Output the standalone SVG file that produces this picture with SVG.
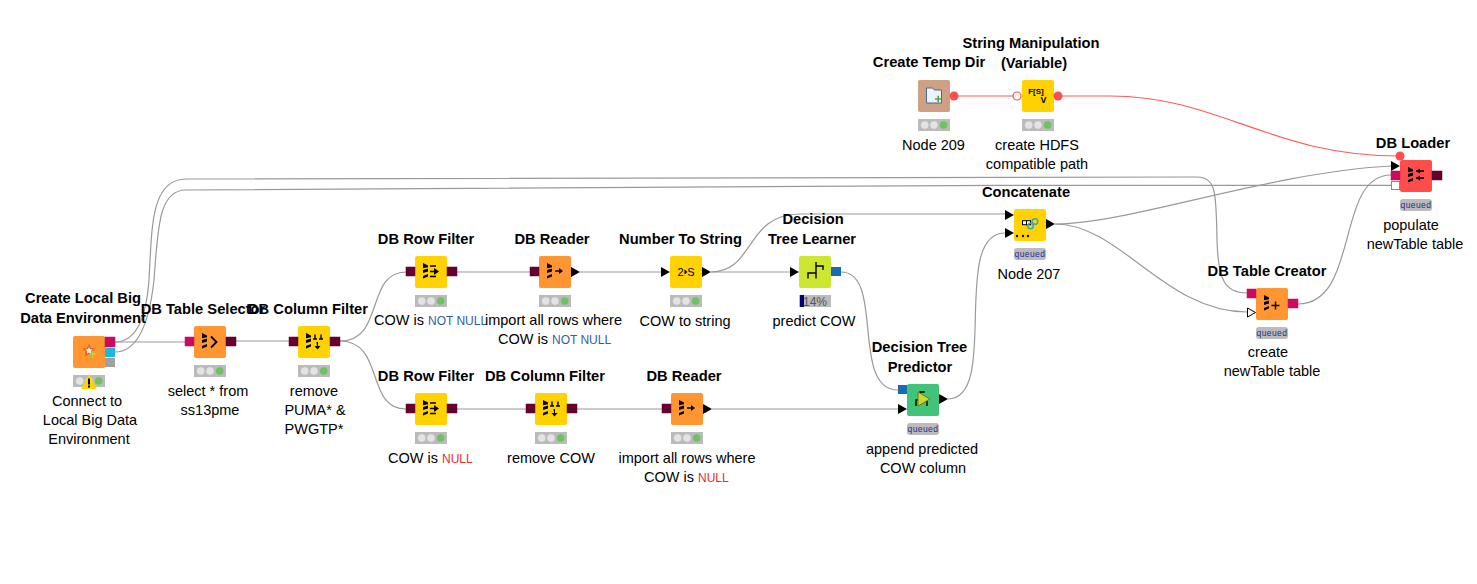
<svg xmlns="http://www.w3.org/2000/svg" xmlns:xlink="http://www.w3.org/1999/xlink" width="1477" height="584" viewBox="0 0 1477 584">
<style>
text{font-family:"Liberation Sans",Arial,sans-serif;font-size:14.5px;fill:#000;text-anchor:middle}
.t{font-weight:bold;font-size:14.7px}
.l{text-anchor:start}
.nn{font-size:12px;fill:#2f5ea8}
.nu{font-size:12px;fill:#f0282d}
.c{fill:none;stroke:#999;stroke-width:1.2}
.r{fill:none;stroke:#ff5a5a;stroke-width:1.100}
.orange{fill:#ff9632}.yellow{fill:#ffd200}.tan{fill:#cea184}.lime{fill:#cde62f}.green{fill:#42c37a}.red{fill:#ff4d4d}
.dk{fill:#66002e;stroke:#66002e;stroke-width:.5}.pk{fill:#cc0a5f;stroke:#cc0a5f;stroke-width:.5}
.tri{fill:#000}
.pill{fill:#bbb}
.q{font-size:8.5px;fill:#2a2a96;letter-spacing:.4px}
.ic{fill:none;stroke:#000;stroke-width:1.4}
</style>
<defs>
<rect id="n" width="32" height="32" rx="2"/>
<g id="lights"><rect y="39" width="32" height="12" fill="#bbb"/><circle cx="6.700" cy="45" r="3.800" fill="#e3e3e3"/><circle cx="16" cy="45" r="3.800" fill="#e3e3e3"/><circle cx="25.700" cy="45" r="3.800" fill="#6cc35f"/></g>
<path id="db" d="M8 7l5 2.500v1.800l-5 1zM8 14l5-1.500v3l-5 1.500zM8 20l5-2v2.500l-5 2z"/>
<path id="tr" d="M0-5L9 0 0 5z"/>
</defs>

<g id="connectors">
<path class="c" d="M115 342H185"/>
<path class="c" d="M115 342C135 342 146 320 149 280C152 230 150 179 186 179L1197 177C1217 177 1216 195 1217 240C1218 280 1225 293 1247 293"/>
<path class="c" d="M115 352C137 352 149 325 154 280C158 230 158 190 186 190L1000 185.300H1391"/>
<path class="c" d="M236 341H289"/>
<path class="c" d="M340 341C385 341 365 272 406 272"/>
<path class="c" d="M340 341C385 341 365 409 406 409"/>
<path class="c" d="M457 272H530"/>
<path class="c" d="M580 272H661"/>
<path class="c" d="M711 272H790"/>
<path class="c" d="M711 272C755 272 745 214 800 214H1005"/>
<path class="c" d="M457 409H526"/>
<path class="c" d="M577 409H662"/>
<path class="c" d="M712 409H898"/>
<path class="c" d="M841 272C885 272 850 390 898 390"/>
<path class="c" d="M948 399C1000 399 950 233 1005 233"/>
<path class="c" d="M1055 224C1130 224 1270 172 1391 166"/>
<path class="c" d="M1055 224C1120 224 1165 312 1247 312"/>
<path class="c" d="M1298 304C1360 304 1335 175 1391 175"/>
<path class="r" d="M954 96H1017"/>
<path class="r" d="M1058 96H1110C1220 96 1270 156 1400 156"/>
</g>

<g id="node-local-big-data">
<use href="#n" x="73" y="336" class="orange"/>
<path d="M89 345.500l1.500 3 3.500.5-2.500 2.500.7 3.500-3.200-1.700-3.200 1.700.7-3.500-2.500-2.500 3.500-.5z" fill="#fff" stroke="#e8641e" stroke-width="1.500"/>
<path d="M89.500 354h6M92.500 351v6" stroke="#b5dc3c" stroke-width="1.600"/>
<rect x="105" y="337" width="10" height="10" class="pk"/><rect x="105" y="348" width="10" height="9" fill="#1fb6dc"/><rect x="105" y="358" width="10" height="9" fill="#a0a0a0"/>
<g transform="translate(73 336)"><use href="#lights"/></g>
<path d="M89 374l8 15H81z" fill="#ffd400"/><rect x="88" y="378.500" width="2" height="6"/><rect x="88" y="385.500" width="2" height="2"/>
<text class="t" x="83" y="303">Create Local Big</text><text class="t" x="83" y="323">Data Environment</text>
<text x="87" y="406">Connect to</text><text x="90" y="425">Local Big Data</text><text x="89" y="444">Environment</text>
</g>

<g id="node-table-selector">
<use href="#n" x="194" y="326" class="orange"/><use href="#db" x="194" y="326"/>
<path d="M211 336.500l5.500 5.500-5.500 5.500" fill="none" stroke="#000" stroke-width="1.800"/>
<rect x="185" y="337" width="9" height="9" class="pk"/><rect x="226" y="337" width="10" height="9" class="dk"/>
<g transform="translate(194 326)"><use href="#lights"/></g>
<text class="t" x="203" y="314">DB Table Selector</text>
<text x="208" y="396">select * from</text><text x="210" y="415">ss13pme</text>
</g>

<g id="node-column-filter">
<use href="#n" x="298" y="326" class="yellow"/><use href="#db" x="298" y="326"/>
<path d="M313 339h4M319 339h4M315 334.500v4M321 334.500v4" class="ic" stroke-width="1"/><path d="M317 342h1.500v4h2.500l-3 3.500-3-3.500h2.500z" transform="translate(-.500 0)"/>
<rect x="289" y="337" width="9" height="9" class="dk"/><rect x="330" y="337" width="10" height="9" class="dk"/>
<g transform="translate(298 326)"><use href="#lights"/></g>
<text class="t" x="308" y="314">DB Column Filter</text>
<text x="314" y="396">remove</text><text x="315" y="415">PUMA* &amp;</text><text x="314" y="434">PWGTP*</text>
</g>

<g id="node-row-filter-top">
<use href="#n" x="415" y="256" class="yellow"/><use href="#db" x="415" y="256"/>
<path d="M430 266h6M430 271.500h7M430 276.500h6" class="ic" stroke-width="1"/><path d="M434 268l5 3.500-5 3.500z"/>
<rect x="406" y="267" width="9" height="9" class="dk"/><rect x="447" y="267" width="10" height="9" class="dk"/>
<g transform="translate(415 256)"><use href="#lights"/></g>
<text class="t" x="426" y="244">DB Row Filter</text>
<text class="l" x="374" y="325">COW is <tspan class="nn">NOT NULL</tspan></text>
</g>

<g id="node-reader-top">
<use href="#n" x="539" y="256" class="orange"/><use href="#db" x="539" y="256"/>
<path d="M555 271h5" class="ic"/><path d="M559 268l4 3-4 3z"/>
<rect x="530" y="267" width="9" height="9" class="dk"/><use href="#tr" x="571" y="272" class="tri"/>
<g transform="translate(539 256)"><use href="#lights"/></g>
<text class="t" x="552" y="244">DB Reader</text>
<text x="553.500" y="325">import all rows where</text>
<text class="l" x="498" y="344">COW is <tspan class="nn">NOT NULL</tspan></text>
</g>

<g id="node-number-to-string">
<use href="#n" x="670" y="256" class="yellow"/>
<text x="680.500" y="276" style="font-size:11px">2</text><path d="M684.500 269.500l3 2.500-3 2.500z"/><text x="691" y="276" style="font-size:11px">S</text>
<use href="#tr" x="661" y="272" class="tri"/><use href="#tr" x="702" y="272" class="tri"/>
<g transform="translate(670 256)"><use href="#lights"/></g>
<text class="t" x="680.500" y="244">Number To String</text>
<text x="685" y="326">COW to string</text>
</g>

<g id="node-tree-learner">
<use href="#n" x="799" y="256" class="lime"/>
<path d="M816 262v11h-8v5.500M816 273v5.500M816 266h7v4" class="ic" stroke-width="2"/>
<use href="#tr" x="790" y="272" class="tri"/><rect x="831" y="267" width="10" height="9" fill="#1a6cb0"/>
<rect x="799" y="295" width="32" height="12" fill="#bbb"/><rect x="800" y="295" width="4" height="12" fill="#00007f"/>
<text x="815" y="305.500" style="fill:#555;font-size:12px">14%</text>
<text class="t" x="813" y="224">Decision</text><text class="t" x="812" y="244">Tree Learner</text>
<text x="814" y="326">predict COW</text>
</g>

<g id="node-concatenate">
<use href="#n" x="1014" y="209" class="yellow"/>
<rect x="1022.500" y="220.700" width="4" height="4" fill="#fff" stroke="#000"/><rect x="1026.500" y="220.700" width="4" height="4" fill="#fff" stroke="#000"/>
<circle cx="1030.500" cy="226" r="2.800" fill="none" stroke="#3aa6c8" stroke-width="1.500"/><circle cx="1035" cy="221.500" r="2.800" fill="none" stroke="#3aa6c8" stroke-width="1.500"/>
<circle cx="1017" cy="236" r="1.200"/><circle cx="1023" cy="236" r="1.200"/><circle cx="1028" cy="236" r="1.200"/>
<use href="#tr" x="1005" y="215" class="tri"/><use href="#tr" x="1005" y="233" class="tri"/><use href="#tr" x="1046" y="224" class="tri"/>
<rect x="1014" y="248" width="32" height="12" rx="3" class="pill"/><text class="q" x="1030" y="257">queued</text>
<text class="t" x="1026" y="197">Concatenate</text>
<text x="1029" y="279">Node 207</text>
</g>

<g id="node-row-filter-bottom">
<use href="#n" x="415" y="393" class="yellow"/><use href="#db" x="415" y="393"/>
<path d="M430 403h6M430 408.500h7M430 413.500h6" class="ic" stroke-width="1"/><path d="M434 405l5 3.500-5 3.500z"/>
<rect x="406" y="404" width="9" height="9" class="dk"/><rect x="447" y="404" width="10" height="9" class="dk"/>
<g transform="translate(415 393)"><use href="#lights"/></g>
<text class="t" x="426" y="381">DB Row Filter</text>
<text class="l" x="388" y="463">COW is <tspan class="nu">NULL</tspan></text>
</g>

<g id="node-column-filter-bottom">
<use href="#n" x="535" y="393" class="yellow"/><use href="#db" x="535" y="393"/>
<path d="M550 406h4M556 406h4M552 401.500v4M558 401.500v4" class="ic" stroke-width="1"/><path d="M554 409h1.500v4h2.500l-3 3.500-3-3.500h2.500z" transform="translate(-.500 0)"/>
<rect x="526" y="404" width="9" height="9" class="dk"/><rect x="567" y="404" width="10" height="9" class="dk"/>
<g transform="translate(535 393)"><use href="#lights"/></g>
<text class="t" x="545" y="381">DB Column Filter</text>
<text x="551" y="463">remove COW</text>
</g>

<g id="node-reader-bottom">
<use href="#n" x="671" y="393" class="orange"/><use href="#db" x="671" y="393"/>
<path d="M687 408h5" class="ic"/><path d="M691 405l4 3-4 3z"/>
<rect x="662" y="404" width="9" height="9" class="dk"/><use href="#tr" x="703" y="409" class="tri"/>
<g transform="translate(671 393)"><use href="#lights"/></g>
<text class="t" x="684" y="381">DB Reader</text>
<text x="687" y="463">import all rows where</text>
<text class="l" x="644" y="482">COW is <tspan class="nu">NULL</tspan></text>
</g>

<g id="node-tree-predictor">
<use href="#n" x="907" y="384" class="green"/>
<path d="M916 406v-6h4v-8h4v-1M920 400h7v6" class="ic" stroke-width="1.800"/>
<path d="M918 392l12 7-12 7z" fill="#c8d72d" stroke="#6e7a1e"/>
<rect x="898" y="385" width="9" height="9" fill="#1a6cb0"/><use href="#tr" x="898" y="409" class="tri"/><use href="#tr" x="939" y="399" class="tri"/>
<rect x="907" y="423" width="32" height="12" rx="3" class="pill"/><text class="q" x="923" y="432">queued</text>
<text class="t" x="919.500" y="352">Decision Tree</text><text class="t" x="920" y="372">Predictor</text>
<text x="922" y="454">append predicted</text><text x="923" y="473">COW column</text>
</g>

<g id="node-temp-dir">
<use href="#n" x="918" y="80" class="tan"/>
<path d="M926.500 88h6l2 2h7v13h-15z" fill="#eef3f8" stroke="#4a6a8a"/><path d="M935 99h6.500M938.200 95.800v6.500" stroke="#4aa84a" stroke-width="1.600"/>
<circle cx="954" cy="96" r="4.500" fill="#ff4d4d"/>
<g transform="translate(918 80)"><use href="#lights"/></g>
<text class="t" x="929" y="67">Create Temp Dir</text>
<text x="933.500" y="150">Node 209</text>
</g>

<g id="node-string-manipulation">
<use href="#n" x="1022" y="80" class="yellow"/>
<text x="1036" y="94" style="font-size:8px;font-weight:bold">F[S]</text><text x="1043.500" y="103" style="font-size:9px;font-weight:bold">V</text>
<circle cx="1017" cy="96" r="4" fill="#fff" stroke="#ff4d4d" stroke-width="1.200"/><circle cx="1058" cy="96" r="4.500" fill="#ff4d4d"/>
<g transform="translate(1022 80)"><use href="#lights"/></g>
<text class="t" x="1031" y="48">String Manipulation</text><text class="t" x="1034" y="68">(Variable)</text>
<text x="1037" y="150">create HDFS</text><text x="1037" y="169">compatible path</text>
</g>

<g id="node-table-creator">
<use href="#n" x="1256" y="288" class="orange"/><use href="#db" x="1256" y="288"/>
<path d="M1271.500 305.500h8M1275.500 301.500v8" class="ic" stroke-width="2"/>
<rect x="1247" y="289" width="9" height="9" class="pk"/><path d="M1247.500 308l8 4.500-8 4.500z" fill="#fff" stroke="#000"/>
<rect x="1288" y="299" width="10" height="9" class="pk"/>
<rect x="1256" y="327" width="32" height="12" rx="3" class="pill"/><text class="q" x="1272" y="336">queued</text>
<text class="t" x="1267" y="276">DB Table Creator</text>
<text x="1268" y="357">create</text><text x="1272" y="376">newTable table</text>
</g>

<g id="node-loader">
<use href="#n" x="1400" y="160" class="red"/><use href="#db" x="1400" y="160"/>
<path d="M1416 171h8M1416 178h8" class="ic"/><path d="M1420 168.500l-4 2.500 4 2.500zM1420 175.500l-4 2.500 4 2.500z"/>
<circle cx="1400" cy="156" r="4.500" fill="#ff4d4d"/>
<use href="#tr" x="1391" y="166" class="tri"/><rect x="1391" y="171" width="9" height="9" class="pk"/>
<rect x="1391.500" y="181.500" width="8" height="8" fill="#fff" stroke="#3aa6c8"/>
<rect x="1432" y="171" width="10" height="9" class="dk"/>
<rect x="1400" y="199" width="32" height="12" rx="3" class="pill"/><text class="q" x="1416" y="208">queued</text>
<text class="t" x="1413" y="148">DB Loader</text>
<text x="1411" y="230">populate</text><text x="1415" y="249">newTable table</text>
</g>
</svg>
